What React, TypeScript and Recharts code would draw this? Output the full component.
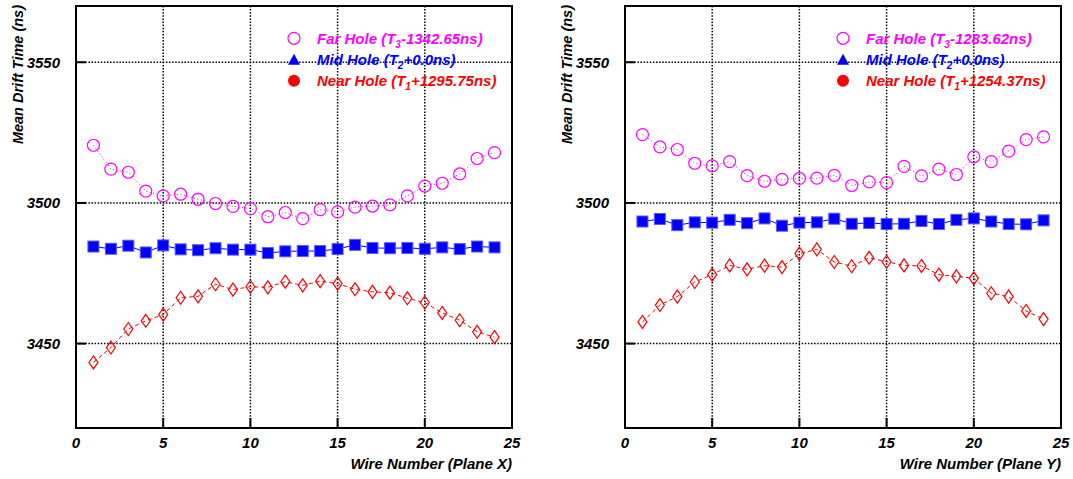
import React from 'react';
import { LineChart, Line, XAxis, YAxis, CartesianGrid, ReferenceArea, Customized } from 'recharts';

const wires = [1, 2, 3, 4, 5, 6, 7, 8, 9, 10, 11, 12, 13, 14, 15, 16, 17, 18, 19, 20, 21, 22, 23, 24];

// Plane X
const farX = [3520.5, 3512.0, 3510.9, 3504.2, 3502.5, 3503.1, 3501.3, 3499.8, 3498.8, 3498.0, 3495.1, 3496.6, 3494.4, 3497.6, 3496.8, 3498.5, 3498.9, 3499.3, 3502.5, 3506.0, 3507.0, 3510.3, 3515.8, 3517.9];
const midX = [3484.5, 3483.7, 3484.8, 3482.4, 3484.9, 3483.5, 3483.2, 3483.9, 3483.4, 3483.4, 3482.2, 3482.8, 3482.9, 3482.9, 3483.6, 3485.1, 3484.0, 3483.9, 3484.0, 3483.7, 3484.2, 3483.6, 3484.5, 3484.2];
const nearX = [3443.3, 3448.6, 3455.2, 3458.1, 3460.3, 3466.3, 3466.8, 3471.1, 3469.2, 3470.2, 3470.0, 3472.0, 3470.7, 3472.2, 3471.3, 3469.3, 3468.4, 3468.1, 3466.1, 3464.6, 3460.9, 3458.3, 3454.2, 3452.3];

// Plane Y
const farY = [3524.3, 3519.9, 3519.0, 3514.1, 3513.2, 3514.7, 3509.7, 3507.7, 3508.4, 3508.7, 3508.8, 3509.8, 3506.2, 3507.5, 3507.2, 3513.0, 3509.6, 3512.0, 3510.1, 3516.4, 3514.7, 3518.4, 3522.5, 3523.5];
const midY = [3493.4, 3494.3, 3492.1, 3493.1, 3493.0, 3494.0, 3492.8, 3494.5, 3491.9, 3493.0, 3493.1, 3494.4, 3492.6, 3492.9, 3492.5, 3492.6, 3493.6, 3492.5, 3494.0, 3494.5, 3493.4, 3492.5, 3492.4, 3493.8];
const nearY = [3457.7, 3463.7, 3466.7, 3471.9, 3474.5, 3477.8, 3476.4, 3477.7, 3477.2, 3482.0, 3483.5, 3479.0, 3477.5, 3480.5, 3479.1, 3477.8, 3477.6, 3474.5, 3473.9, 3473.2, 3467.9, 3466.7, 3461.6, 3458.7];

const xTicks = [0, 5, 10, 15, 20, 25];
const yTicks = [3450, 3500, 3550];
const xDomain = [0, 25];
const yDomain = [3420, 3570];

const seriesNames = ['Far Hole', 'Mid Hole', 'Near Hole'];
const seriesSubs = ['3', '2', '1'];
const offsetsX = ['-1342.65ns', '+0.0ns', '+1295.75ns'];
const offsetsY = ['-1283.62ns', '+0.0ns', '+1254.37ns'];

const yTitle = 'Mean Drift Time (ns)';
const xTitles = ['Wire Number (Plane X)', 'Wire Number (Plane Y)'];

const FONT = '"Liberation Sans", Arial, Helvetica, sans-serif';
const MAGENTA = '#ff00ff';
const BLUE = '#0000ff';
const RED = '#ff0000';
const colors = [MAGENTA, BLUE, RED];

const CHART_W = 524;
const CHART_H = 479;
const MARGIN = { top: 6, right: 12, bottom: 11, left: 16 };
const Y_AXIS_W = 60;
const PLOT_LEFT = MARGIN.left + Y_AXIS_W;

const textStyle = { fontFamily: FONT, fontWeight: 'bold' as const, fontStyle: 'italic' as const };

const FarDot = (props: any) => {
  const { cx, cy, index } = props;
  if (cx == null || cy == null) return <g key={`f${index}`} />;
  return <circle key={`f${index}`} cx={cx} cy={cy} r={6} fill="none" stroke={MAGENTA} strokeWidth={1.2} />;
};

const MidDot = (props: any) => {
  const { cx, cy, index } = props;
  if (cx == null || cy == null) return <g key={`m${index}`} />;
  return <rect key={`m${index}`} x={cx - 5.5} y={cy - 5.5} width={11} height={11} fill={BLUE} stroke="#5a5aff" strokeWidth={1} />;
};

const NearDot = (props: any) => {
  const { cx, cy, index } = props;
  if (cx == null || cy == null) return <g key={`n${index}`} />;
  const d = `M${cx},${cy - 6.5} L${cx + 4.5},${cy} L${cx},${cy + 6.5} L${cx - 4.5},${cy} Z`;
  return <path key={`n${index}`} d={d} fill="none" stroke={RED} strokeWidth={1.2} />;
};

const LegendMarker = ({ i, x, y }: { i: number; x: number; y: number }) => {
  if (i === 0) return <circle cx={x} cy={y} r={6} fill="none" stroke={MAGENTA} strokeWidth={1.2} />;
  if (i === 1) return <path d={`M${x},${y - 6} L${x + 6},${y + 5} L${x - 6},${y + 5} Z`} fill={BLUE} />;
  return <circle cx={x} cy={y} r={6} fill={RED} />;
};

const makeLegend = (offsets: string[]) => () => {
  const rowY = [38.3, 59.8, 80.7];
  const mx = PLOT_LEFT + 218;
  const tx = PLOT_LEFT + 241;
  return (
    <g>
      {seriesNames.map((name, i) => (
        <g key={name}>
          <LegendMarker i={i} x={mx} y={rowY[i]} />
          <text x={tx} y={rowY[i] + 5.5} fill={colors[i]} fontSize={15} style={textStyle}>
            {`${name} (T`}
            <tspan dy={4} fontSize={10}>{seriesSubs[i]}</tspan>
            <tspan dy={-4}>{`${offsets[i]})`}</tspan>
          </text>
        </g>
      ))}
    </g>
  );
};

const XTitleLabel = (title: string) => (props: any) => {
  const vb = props.viewBox || {};
  return (
    <text x={vb.x + vb.width} y={469} textAnchor="end" fontSize={15} fill="#000" style={textStyle}>
      {title}
    </text>
  );
};

const YTitleLabel = (props: any) => {
  const x = PLOT_LEFT - 53.5;
  const y = 5;
  return (
    <text x={x} y={y} textAnchor="end" fontSize={14.5} fill="#000" transform={`rotate(-90, ${x}, ${y})`} style={textStyle}>
      {yTitle}
    </text>
  );
};

const Panel = ({ far, mid, near, offsets, xTitle }: { far: number[]; mid: number[]; near: number[]; offsets: string[]; xTitle: string }) => {
  const data = wires.map((w, i) => ({ wire: w, far: far[i], mid: mid[i], near: near[i] }));
  const tickStyle = { fontSize: 15, fill: '#000', fontFamily: FONT, fontWeight: 'bold', fontStyle: 'italic' };
  return (
    <LineChart width={CHART_W} height={CHART_H} data={data} margin={MARGIN}>
      <CartesianGrid stroke="#000" strokeWidth={1.5} strokeDasharray="1.5 1.6" horizontalValues={yTicks} verticalValues={xTicks} />
      <XAxis
        dataKey="wire"
        type="number"
        domain={xDomain}
        ticks={xTicks}
        allowDataOverflow
        axisLine={false}
        tickSize={-10}
        tickMargin={19}
        tickLine={{ stroke: '#000', strokeWidth: 2 }}
        tick={tickStyle}
        height={40}
        interval={0}
        label={XTitleLabel(xTitle)}
      />
      <YAxis
        type="number"
        domain={yDomain}
        ticks={yTicks}
        allowDataOverflow
        axisLine={false}
        tickSize={-10}
        tickMargin={26}
        tickLine={{ stroke: '#000', strokeWidth: 2 }}
        tick={tickStyle}
        width={Y_AXIS_W}
        interval={0}
        label={YTitleLabel}
      />
      <Line dataKey="far" stroke={MAGENTA} strokeWidth={1} strokeDasharray="1 2.5" dot={FarDot} activeDot={false} isAnimationActive={false} />
      <Line dataKey="mid" stroke={BLUE} strokeWidth={1} dot={MidDot} activeDot={false} isAnimationActive={false} />
      <Line dataKey="near" stroke={RED} strokeWidth={1} strokeDasharray="4 3" dot={NearDot} activeDot={false} isAnimationActive={false} />
      <ReferenceArea x1={xDomain[0]} x2={xDomain[1]} y1={yDomain[0]} y2={yDomain[1]} fill="none" fillOpacity={0} stroke="#000" strokeWidth={2} ifOverflow="visible" />
      <Customized component={makeLegend(offsets)} />
    </LineChart>
  );
};

export default function App() {
  return (
    <div style={{ position: 'absolute', left: 0, top: 0, width: 1073, height: 479, background: '#fff', overflow: 'hidden' }}>
      <div style={{ position: 'absolute', left: 0, top: 0 }}>
        <Panel far={farX} mid={midX} near={nearX} offsets={offsetsX} xTitle={xTitles[0]} />
      </div>
      <div style={{ position: 'absolute', left: 549, top: 0 }}>
        <Panel far={farY} mid={midY} near={nearY} offsets={offsetsY} xTitle={xTitles[1]} />
      </div>
    </div>
  );
}
